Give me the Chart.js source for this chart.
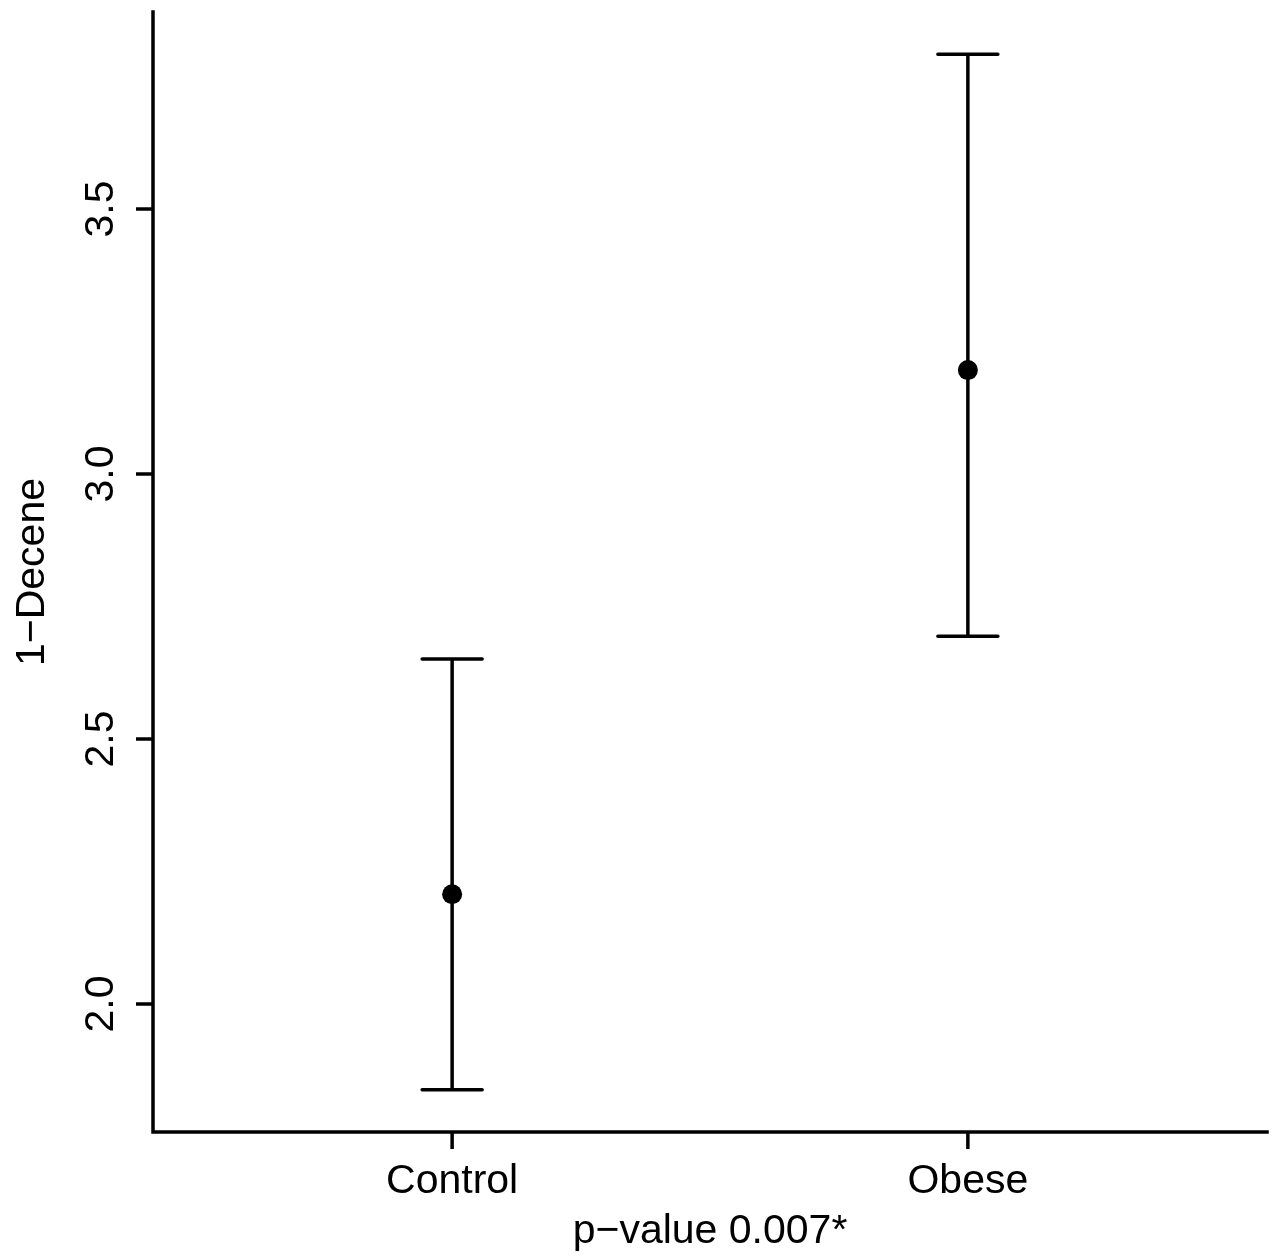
<!DOCTYPE html>
<html>
<head>
<meta charset="utf-8">
<script src="https://cdn.jsdelivr.net/npm/chart.js@4.4.1/dist/chart.umd.min.js"></script>
<style>
  html, body { margin: 0; padding: 0; background: #ffffff; }
  #wrap { width: 1277px; height: 1257px; }
</style>
</head>
<body>
<div id="wrap"><canvas id="c" width="1277" height="1257"></canvas></div>
<script>
const categories = ["Control", "Obese"];
const categoryPositions = [1, 2];
const means = [2.207, 3.196];
const upperBounds = [2.651, 3.792];
const lowerBounds = [1.838, 2.694];
const yTicks = [2.0, 2.5, 3.0, 3.5];
const yTickLabels = ["2.0", "2.5", "3.0", "3.5"];
const yTitle = "1\u2212Decene";
const xTitle = "p\u2212value 0.007*";

const FONT = '41px "Liberation Sans", Arial, Helvetica, sans-serif';
const LW = 3.5;

const errorBarPlugin = {
  id: 'errorBars',
  afterDatasetsDraw(chart) {
    const ctx = chart.ctx;
    const xs = chart.scales.x, ys = chart.scales.y;
    ctx.save();
    ctx.strokeStyle = '#000';
    ctx.lineWidth = LW;
    ctx.lineCap = 'round';
    for (let i = 0; i < categories.length; i++) {
      const px = xs.getPixelForValue(categoryPositions[i]);
      const pTop = ys.getPixelForValue(upperBounds[i]);
      const pBot = ys.getPixelForValue(lowerBounds[i]);
      ctx.beginPath();
      ctx.moveTo(px, pTop); ctx.lineTo(px, pBot);
      ctx.moveTo(px - 30, pTop); ctx.lineTo(px + 30, pTop);
      ctx.moveTo(px - 30, pBot); ctx.lineTo(px + 30, pBot);
      ctx.stroke();
    }
    ctx.restore();
  }
};

const axesPlugin = {
  id: 'rAxes',
  afterDraw(chart) {
    const ctx = chart.ctx;
    const a = chart.chartArea;
    const xs = chart.scales.x, ys = chart.scales.y;
    ctx.save();
    ctx.strokeStyle = '#000';
    ctx.fillStyle = '#000';
    ctx.lineWidth = LW;
    ctx.lineCap = 'square';
    ctx.beginPath();
    ctx.moveTo(a.left, a.top);
    ctx.lineTo(a.left, a.bottom);
    ctx.lineTo(a.right, a.bottom);
    ctx.stroke();
    ctx.lineCap = 'butt';
    ctx.font = FONT;
    ctx.textAlign = 'center';
    ctx.textBaseline = 'alphabetic';
    for (let i = 0; i < categories.length; i++) {
      const px = xs.getPixelForValue(categoryPositions[i]);
      ctx.beginPath();
      ctx.moveTo(px, a.bottom); ctx.lineTo(px, a.bottom + 17);
      ctx.stroke();
      ctx.fillText(categories[i], px, a.bottom + 61);
    }
    for (let i = 0; i < yTicks.length; i++) {
      const py = ys.getPixelForValue(yTicks[i]);
      ctx.beginPath();
      ctx.moveTo(a.left, py); ctx.lineTo(a.left - 17, py);
      ctx.stroke();
      ctx.save();
      ctx.translate(a.left - 40, py);
      ctx.rotate(-Math.PI / 2);
      ctx.textAlign = 'center';
      ctx.fillText(yTickLabels[i], 0, 0);
      ctx.restore();
    }
    ctx.fillText(xTitle, (a.left + a.right) / 2, 1243);
    ctx.save();
    ctx.translate(44, (a.top + a.bottom) / 2);
    ctx.rotate(-Math.PI / 2);
    ctx.textAlign = 'center';
    ctx.fillText(yTitle, 0, 0);
    ctx.restore();
    ctx.restore();
  }
};

const points = categoryPositions.map((x, i) => ({ x: x, y: means[i] }));

new Chart(document.getElementById('c'), {
  type: 'scatter',
  data: {
    datasets: [{
      data: points,
      backgroundColor: '#000',
      borderColor: '#000',
      pointRadius: 10,
      pointHoverRadius: 10,
      borderWidth: 0
    }]
  },
  options: {
    responsive: false,
    animation: false,
    events: [],
    layout: { padding: { left: 153, top: 12, right: 4, bottom: 125 } },
    plugins: { legend: { display: false }, tooltip: { enabled: false } },
    scales: {
      x: { type: 'linear', display: false, min: 0.42, max: 2.58 },
      y: { type: 'linear', display: false, min: 1.7585, max: 3.8717 }
    }
  },
  plugins: [errorBarPlugin, axesPlugin]
});
</script>
</body>
</html>
